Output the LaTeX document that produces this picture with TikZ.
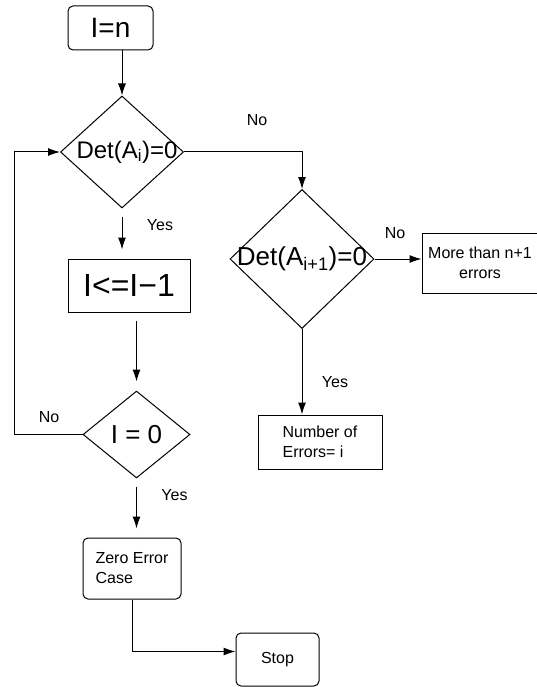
\documentclass[tikz,border=0pt]{standalone}
\usepackage{fontspec}
\setmainfont{Liberation Sans}
\usetikzlibrary{calc}
\usetikzlibrary{arrows.meta}
\usetikzlibrary{shapes.geometric}

\begin{document}
\begin{tikzpicture}[
        x=1pt,y=-1pt,
        line width=1pt,
        every node/.style={draw,inner sep=0pt},
        sqbox/.style={rectangle},
        rbox/.style={rectangle,rounded corners=5pt},
        decision/.style={diamond},
        lbl/.style={draw=none,font=\fontsize{16}{18}\selectfont},
        small/.style={font=\fontsize{16}{20}\selectfont},
        gap/.style={shorten <=8pt,shorten >=9pt},
        >={Latex[length=12pt,width=8pt]}
    ]
        \useasboundingbox (0,0) rectangle (537,687);
        \node[rbox,minimum width=85,minimum height=44,font=\fontsize{28}{30}\selectfont] (start) at (110.5,28) {I=n};
        \node[decision,minimum width=123,minimum height=112,font=\fontsize{24}{26}\selectfont] (det1) at (122,152) {\makebox[0pt]{\hspace*{10pt}Det(A\textsubscript{i})=0}};
        \node[sqbox,minimum width=122,minimum height=53,font=\fontsize{32}{34}\selectfont] (dec) at (129,285.5) {I<=I−1};
        \node[decision,minimum width=107,minimum height=87,font=\fontsize{26}{28}\selectfont] (iszero) at (136.5,434.5) {\makebox[0pt]{I = 0}};
        \node[rbox,small,minimum width=98,minimum height=61,align=left] (zerocase) at (132,568.5) {Zero Error\\Case};
        \node[rbox,small,minimum width=83,minimum height=53] (stop) at (277.5,659.5) {Stop};
        \node[decision,minimum width=144,minimum height=139,font=\fontsize{26}{28}\selectfont] (det2) at (302,259) {\makebox[0pt]{Det(A\textsubscript{i+1})=0}};
        \node[sqbox,small,minimum width=116,minimum height=60,align=center] (more) at (480,263) {More than n+1\\errors};
        \node[sqbox,small,minimum width=124,minimum height=54,align=left] (errs) at (320,442) {Number of\\Errors= i};
        \node[lbl] (no1) at (257,120) {No};
        \node[lbl] (yes1) at (160,225) {Yes};
        \node[lbl] (no2) at (395,233) {No};
        \node[lbl] (yes2) at (335,382) {Yes};
        \node[lbl] (no3) at (49,417) {No};
        \node[lbl] (yes3) at (174.5,495) {Yes};
        \coordinate (back) at (14,434.5);
        \draw[->] (start.south -| det1.north) -- (det1.north);
        \draw[->,gap] (det1.south) -- (det1.south |- dec.north);
        \draw[->,gap] (dec.south -| iszero.north) -- (iszero.north);
        \draw[->] (iszero.west) -- (back) |- (det1.west);
        \draw[->,gap] (iszero.south) -- (iszero.south |- zerocase.north);
        \draw[->] (zerocase.south) |- ([yshift=8pt]stop.west);
        \draw[->] (det1.east) -| (det2.north);
        \draw[->] (det2.east) -- (det2.east -| more.west);
        \draw[->] (det2.south) -- (det2.south |- errs.north);
    \end{tikzpicture}
\end{document}
